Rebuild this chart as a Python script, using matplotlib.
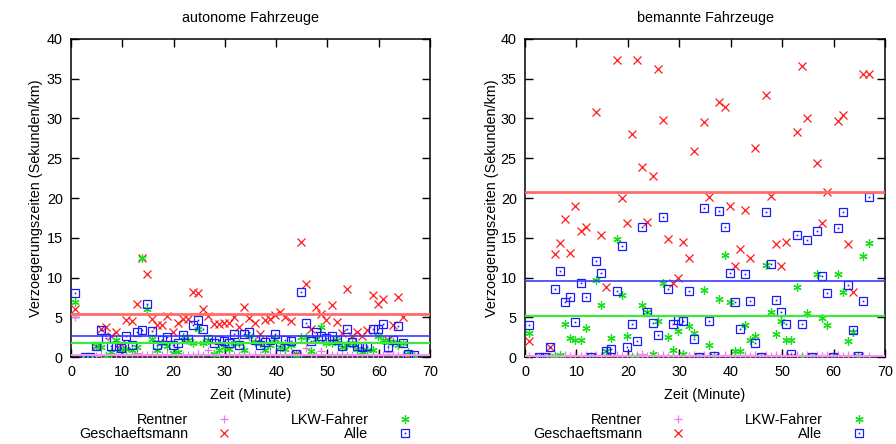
import matplotlib
matplotlib.use("Agg")
import matplotlib.pyplot as plt
from matplotlib.lines import Line2D

plt.rcParams['font.family'] = ['Liberation Sans', 'DejaVu Sans']
FS = 10.4
plt.rcParams['font.size'] = FS

# ---------------- data ----------------
minutes = [0.8, 2.8, 3.8, 4.8, 5.8, 6.8, 7.8, 8.8, 9.8, 10.8, 11.8, 12.8, 13.8, 14.8,
           15.8, 16.8, 17.8, 18.8, 19.8, 20.8, 21.8, 22.8, 23.8, 24.8, 25.8, 26.8,
           27.8, 28.8, 29.8, 30.8, 31.8, 32.8, 33.8, 34.8, 35.8, 36.8, 37.8, 38.8,
           39.8, 40.8, 41.8, 42.8, 43.8, 44.8, 45.8, 46.8, 47.8, 48.8, 49.8, 50.8,
           51.8, 52.8, 53.8, 54.8, 55.8, 56.8, 57.8, 58.8, 59.8, 60.8, 61.8, 62.8,
           63.8, 64.8, 65.8, 66.8]

series_names = ["Rentner", "Geschaeftsmann", "LKW-Fahrer", "Alle"]
panel_titles = ["autonome Fahrzeuge", "bemannte Fahrzeuge"]

# autonome Fahrzeuge
auto_rentner = [5.0, 0, 0, 0.1, 0.3, 0.2, 0.3, 0.4, 0.2, 0.3, 0.2, 0.5, 0.3, 0.3,
                0.4, 0.2, 0.3, 0.4, 0.2, 0.3, 0.2, 0.3, 0.2, 0.4, 0.3, 0.85,
                0.2, 0.3, 0.4, 0.2, 0.3, 0.2, 0.3, 0.2, 0.4, 0.2, 0.3, 0.4,
                0.2, 0.3, 0.3, 0.2, 0.2, 0.3, 1.15, 0.4, 0.3, 0.7, 0.3, 0.2,
                0.3, 0.4, 0.2, 0.3, 0.2, 0.3, 0.4, 0.2, 0.3, 0.2, 0.6, 0.3,
                0.2, 0.3, 0.1, 0.1]
auto_geschaeft = [6.0, 0, 0, 1.35, 3.55, 3.8, 2.6, 3.15, 1.6, 4.7, 4.5, 6.7, 12.4, 10.4,
                  4.8, 4.0, 4.0, 5.1, 3.15, 4.3, 4.8, 4.8, 8.2, 8.1, 6.1, 5.1,
                  4.1, 4.1, 4.3, 4.3, 5.05, 3.8, 6.3, 4.9, 4.3, 2.95, 4.6, 4.8,
                  5.25, 5.7, 5.05, 4.55, 0.35, 14.5, 9.2, 3.55, 6.3, 5.45, 4.7, 6.6,
                  4.4, 3.0, 8.6, 2.7, 3.15, 2.6, 3.45, 7.8, 6.7, 7.3, 2.2, 4.0,
                  7.5, 5.05, 0.1, 0]
auto_lkw = [6.9, 0, 0, 1.35, 1.25, 0.1, 0.6, 2.1, 0.85, 1.0, 0.85, 1.2, 12.4, 6.0,
            2.3, 0.85, 1.75, 1.4, 0.55, 0.6, 2.5, 2.1, 1.8, 3.5, 1.75, 2.2,
            0.4, 0.85, 1.25, 1.05, 1.7, 1.7, 0.85, 2.7, 1.9, 1.7, 0.85, 1.45,
            2.3, 1.25, 1.05, 1.45, 0.2, 2.5, 2.5, 0.7, 2.3, 3.8, 1.75, 1.7,
            2.1, 1.25, 1.45, 1.7, 1.05, 0.6, 0.85, 0.9, 2.7, 2.2, 1.9, 1.9,
            1.45, 1.7, 0.6, 0.1]
auto_alle = [8.0, 0, 0, 1.35, 3.4, 2.4, 1.35, 1.35, 1.1, 2.6, 1.55, 3.15, 3.35, 6.7,
             3.3, 1.55, 2.1, 2.5, 1.45, 1.75, 2.8, 2.3, 4.0, 4.7, 3.55, 2.3,
             1.75, 2.2, 1.95, 1.7, 2.95, 1.55, 2.95, 3.1, 2.1, 1.55, 1.9, 2.2,
             2.95, 1.35, 2.2, 1.95, 0.35, 8.2, 4.3, 1.95, 3.15, 2.6, 2.45, 2.6,
             2.2, 1.35, 3.55, 1.9, 1.35, 1.2, 1.35, 3.5, 3.5, 4.2, 1.25, 2.1,
             3.85, 1.7, 0.4, 0.2]
auto_means = [0.3, 5.4, 1.8, 2.6]

# bemannte Fahrzeuge
man_rentner = [0.1, 0, 0, 0.1, 0.2, 0.1, 0.3, 0.1, 0.2, 0.1, 0.2, 0.1, 0.2, 0.1,
               0.2, 0.1, 0.3, 0.1, 0.2, 0.1, 0.2, 0.4, 0.1, 0.2, 0.1, 0.2,
               0.1, 0.2, 0.1, 0.2, 0.1, 0.2, 0.1, 0.2, 0.1, 0.2, 0.1, 0.2,
               0.1, 0.2, 0.1, 0.2, 0.1, 0.2, 0.1, 0.2, 0.1, 0.2, 0.1, 0.2,
               0.1, 0.2, 0.1, 0.2, 0.1, 0.2, 0.1, 0.2, 0.1, 0.2, 0.1, 0.2,
               0.1, 0.2, 0.1, 0.1]
man_geschaeft = [2.0, 0, 0, 1.3, 12.9, 14.3, 17.3, 13.1, 19.0, 15.8, 16.3, 0, 30.8, 15.3,
                 8.8, 0, 37.3, 20.0, 16.8, 28.0, 37.3, 23.9, 17.0, 22.8, 36.2, 29.8,
                 14.8, 9.3, 10.0, 14.5, 12.4, 25.9, 0, 29.5, 20.1, 0, 32.1, 31.5,
                 19.0, 11.45, 13.6, 18.5, 12.4, 26.3, 0, 32.9, 20.3, 14.2, 11.5, 14.5,
                 0, 28.3, 36.6, 30.0, 0, 24.4, 16.8, 20.8, 0, 29.7, 30.4, 14.2,
                 8.2, 0, 35.6, 35.6]
man_lkw = [3.0, 0, 0, 0, 0.1, 0.3, 4.1, 2.4, 2.1, 2.1, 3.6, 0, 9.7, 6.5,
           0.8, 2.4, 14.9, 7.8, 2.6, 0, 0, 6.5, 5.6, 0.4, 4.5, 9.3,
           2.55, 0.9, 3.3, 0.35, 3.9, 3.05, 0, 8.4, 1.5, 0, 7.25, 12.8,
           6.9, 0.7, 0.7, 4.0, 2.2, 2.6, 0, 11.6, 5.7, 2.85, 4.5, 2.2,
           2.2, 8.8, 0, 5.5, 0, 10.5, 4.9, 4.0, 0, 10.4, 8.2, 2.0,
           3.2, 0, 12.7, 14.4]
man_alle = [4.0, 0, 0, 1.3, 8.6, 10.8, 6.9, 7.5, 4.45, 9.3, 7.5, 0, 12.1, 10.6,
            0.8, 0.96, 8.3, 14.0, 1.3, 4.2, 2.05, 16.4, 5.6, 4.3, 2.8, 17.6,
            8.55, 4.1, 4.7, 4.5, 8.3, 2.26, 0, 18.8, 4.5, 0.1, 18.4, 16.4,
            10.6, 6.9, 3.5, 10.4, 7.0, 1.8, 0, 18.2, 11.7, 7.2, 5.6, 4.1,
            0.35, 15.3, 4.2, 14.7, 0, 15.8, 10.2, 8.0, 0, 16.2, 18.3, 9.0,
            3.4, 0.1, 7.0, 20.1]
man_means = [0.1, 20.8, 5.1, 9.6]

x_ticks = [0, 10, 20, 30, 40, 50, 60, 70]
y_ticks = [0, 5, 10, 15, 20, 25, 30, 35, 40]

# ---------------- style ----------------
colors = ["#ee7aee", "#ff1a1a", "#18e018", "#1a1aff"]
mean_colors = ["#f09af0", "#ff6a6a", "#3ee83e", "#3a3aff"]
mean_lw = [1.4, 2.0, 1.6, 1.2]

fig = plt.figure(figsize=(8.96, 4.44), dpi=100)
axes = [fig.add_axes([71/896, 1-357/444, 359/896, 318/444]),
        fig.add_axes([525/896, 1-357/444, 360/896, 318/444])]

panels = [
    (auto_rentner, auto_geschaeft, auto_lkw, auto_alle, auto_means),
    (man_rentner, man_geschaeft, man_lkw, man_alle, man_means),
]

for ax, title, (ren, ges, lkw, alle, means), lp in zip(
        axes, panel_titles, panels, [2.5, 1.0]):
    ax.plot(minutes, ren, linestyle='none', marker='+', markersize=6,
            markeredgewidth=0.9, color=colors[0], zorder=3)
    ax.plot(minutes, ges, linestyle='none', marker='x', markersize=5.5,
            markeredgewidth=0.9, color=colors[1], zorder=4)
    ax.plot(minutes, lkw, linestyle='none', marker=(6, 2, 0), markersize=6,
            markeredgewidth=0.9, color=colors[2], zorder=5)
    ax.plot(minutes, alle, linestyle='none', marker='s', markersize=6,
            markerfacecolor='none', markeredgewidth=0.9, color=colors[3], zorder=6)
    ax.plot(minutes, alle, linestyle='none', marker='s', markersize=1.2,
            markeredgewidth=0, color=colors[3], zorder=6)
    for m, c, lw in zip(means, mean_colors, mean_lw):
        ax.axhline(m, color=c, linewidth=lw, zorder=7)

    ax.set_xlim(0, 70)
    ax.set_ylim(0, 40)
    ax.set_xticks(x_ticks)
    ax.set_yticks(y_ticks)
    ax.tick_params(direction='in', length=6, width=1, top=True, right=True,
                   labelsize=FS, pad=6, colors='black')
    for sp in ax.spines.values():
        sp.set_linewidth(1.1)
    ax.set_title(title, fontsize=FS, pad=12)
    ax.set_xlabel("Zeit (Minute)", fontsize=FS, labelpad=6)
    ax.set_ylabel("Verzoegerungszeiten (Sekunden/km)", fontsize=FS, labelpad=lp)

# legends
for ax, cx in zip(axes, [249/896, 703/896]):
    h_ren = Line2D([], [], linestyle='none', marker='+', markersize=6,
                   markeredgewidth=0.9, color=colors[0])
    h_ges = Line2D([], [], linestyle='none', marker='x', markersize=5.5,
                   markeredgewidth=0.9, color=colors[1])
    h_lkw = Line2D([], [], linestyle='none', marker=(6, 2, 0), markersize=6,
                   markeredgewidth=0.9, color=colors[2])
    h_alle = (Line2D([], [], linestyle='none', marker='s', markersize=6,
                     markerfacecolor='none', markeredgewidth=0.9, color=colors[3]),
              Line2D([], [], linestyle='none', marker='s', markersize=1.2,
                     markeredgewidth=0, color=colors[3]))
    fig.legend([h_ren, h_ges, h_lkw, h_alle], series_names, ncol=2,
               loc='center', bbox_to_anchor=(cx, 1-427/444), frameon=False,
               markerfirst=False, handlelength=2.0, handletextpad=1.5,
               columnspacing=3.6, labelspacing=0.0, borderpad=0.2,
               fontsize=FS)

fig.savefig("out.png", dpi=100)
